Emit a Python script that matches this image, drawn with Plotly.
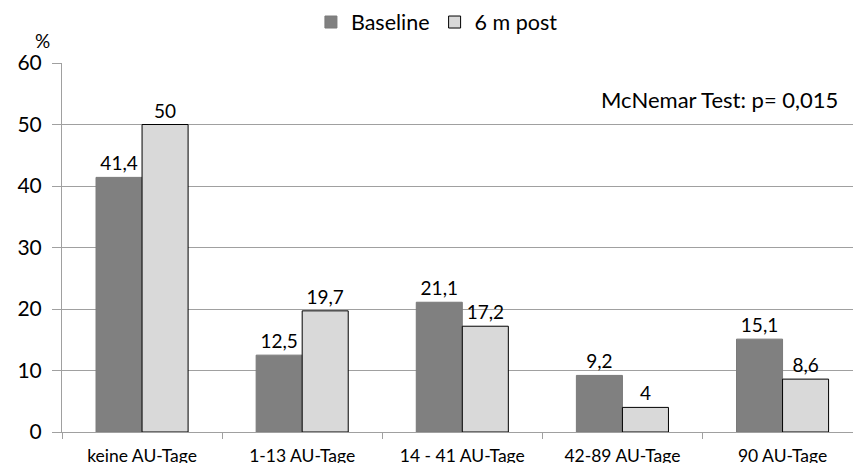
import plotly.graph_objects as go

categories = ["keine AU-Tage", "1-13 AU-Tage", "14 - 41 AU-Tage", "42-89 AU-Tage", "90 AU-Tage"]
baseline = [41.4, 12.5, 21.1, 9.2, 15.1]
post6m = [50, 19.7, 17.2, 4, 8.6]
y_ticks = [0, 10, 20, 30, 40, 50, 60]

def fmt(v):
    return ("%g" % v).replace(".", ",")

FONT = "Lato, Carlito, 'Open Sans', sans-serif"

fig = go.Figure()
fig.add_trace(go.Bar(
    name="Baseline", x=categories, y=baseline,
    marker=dict(color="#808080", line=dict(color="#7a7a7a", width=1)),
    text=[fmt(v) for v in baseline], textposition="outside",
    textfont=dict(size=19, color="black", family=FONT), cliponaxis=False,
))
fig.add_trace(go.Bar(
    name="6 m post", x=categories, y=post6m,
    marker=dict(color="#d9d9d9", line=dict(color="black", width=1)),
    text=[fmt(v) for v in post6m], textposition="outside",
    textfont=dict(size=19, color="black", family=FONT), cliponaxis=False,
))

fig.update_layout(
    width=853, height=463,
    margin=dict(l=62, r=0, t=63, b=31, autoexpand=False),
    paper_bgcolor="white", plot_bgcolor="white",
    barmode="group", bargap=0.425, bargroupgap=0,
    font=dict(family=FONT, color="black"),
    showlegend=True,
    legend=dict(orientation="h", x=0.474, xanchor="center", y=1.111, yanchor="middle",
                font=dict(size=21.5), traceorder="normal"),
    xaxis=dict(
        type="category", range=[-0.5, 4.44],
        showline=True, linecolor="#a0a0a0", linewidth=1,
        ticks="outside", tickson="boundaries", ticklen=6, tickcolor="#a0a0a0",
        tickfont=dict(size=17.5), ticklabelstandoff=8,
        showgrid=False,
    ),
    yaxis=dict(
        range=[0, 60], tickvals=y_ticks,
        showline=True, linecolor="#a0a0a0", linewidth=1,
        showgrid=True, gridcolor="#a0a0a0", gridwidth=1,
        ticks="outside", ticklen=9, tickcolor="#a0a0a0",
        tickfont=dict(size=21), ticklabelstandoff=6, zeroline=False,
    ),
    annotations=[
        dict(text="%", xref="paper", yref="paper", x=-0.025, y=1.06,
             xanchor="center", yanchor="middle", showarrow=False, font=dict(size=19)),
        dict(text="McNemar Test: p= 0,015", xref="paper", yref="y", x=0.984, y=54,
             xanchor="right", yanchor="middle", showarrow=False, font=dict(size=22)),
    ],
)

fig.write_html("out.html", config={"displayModeBar": False},
               post_script="document.body.style.margin='0';document.body.style.overflow='hidden';")
